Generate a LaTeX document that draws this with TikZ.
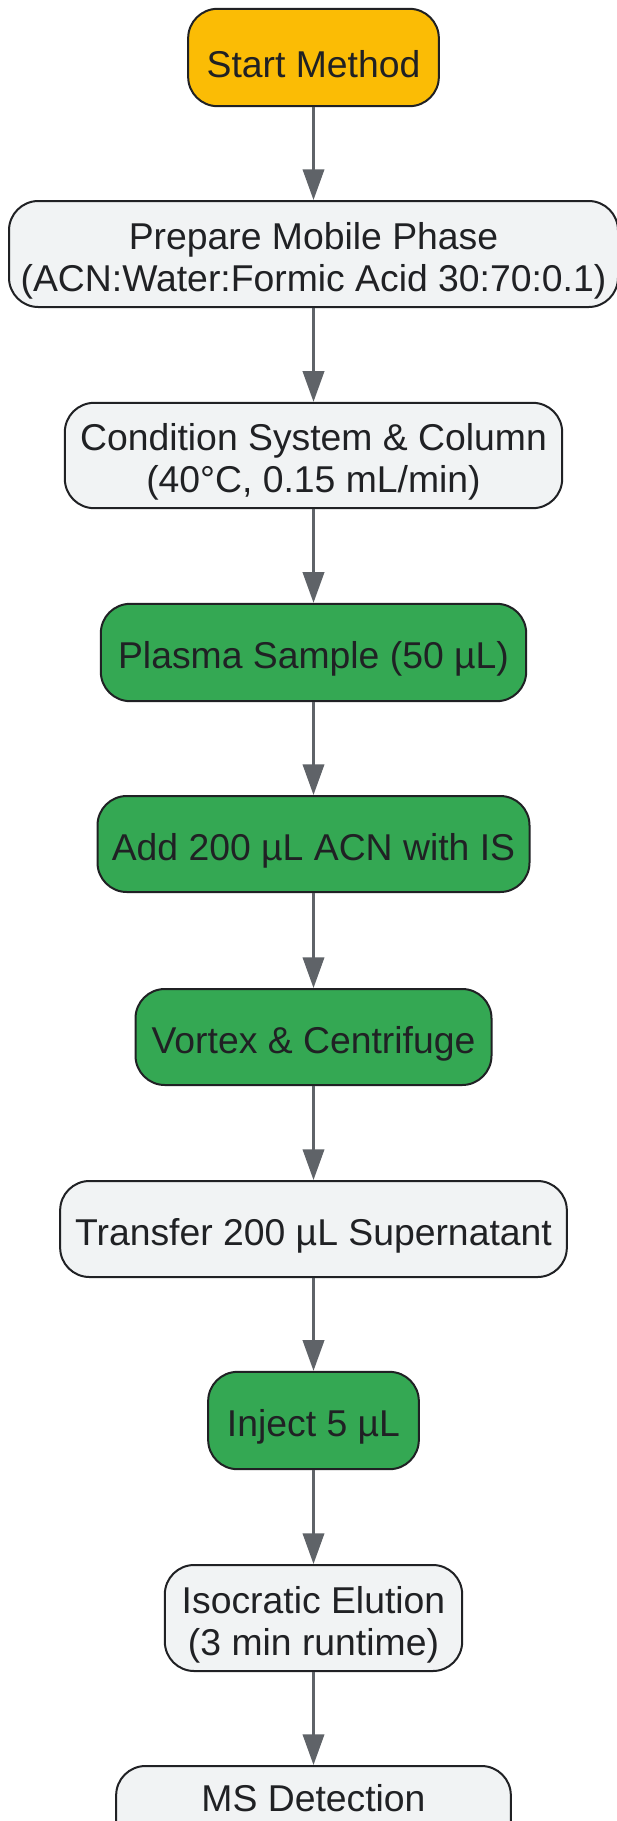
\documentclass[tikz,border=0pt]{standalone}
\usepackage{fontspec}
\setmainfont{Liberation Sans}
\usetikzlibrary{arrows.meta}
\definecolor{edgeink}{HTML}{202124}
\definecolor{arrowgrey}{HTML}{5F6368}
\definecolor{startfill}{HTML}{FBBC05}
\definecolor{greenfill}{HTML}{34A853}
\definecolor{greyfill}{HTML}{F1F3F4}
\newcommand{\dropline}{\rule{0pt}{30pt}}
\begin{document}
\begin{tikzpicture}[x=.75pt,y=-.75pt,
 box/.style={draw=edgeink,line width=1.5pt,rounded corners=22pt,align=center,
  text=edgeink,inner sep=0pt,font=\fontsize{28}{31.5}\selectfont},
 startbox/.style={box,fill=startfill},
 greybox/.style={box,fill=greyfill},
 greenbox/.style={box,fill=greenfill},
 arr/.style={-{Triangle[length=23pt,width=16pt]},draw=arrowgrey,line width=2pt}]
 \useasboundingbox[fill=white] (0,0) rectangle (617,1821);
 \node[startbox,minimum width=188pt,minimum height=73pt] (start) at (313.5,57.5) {\dropline Start Method};
 \node[greybox,minimum width=456.75pt,minimum height=79.5pt] (prep) at (313.5,254) {\dropline Prepare Mobile Phase\\(ACN:Water:Formic Acid 30:70:0.1)};
 \node[greybox,minimum width=373pt,minimum height=79pt] (cond) at (313.5,455.5) {\dropline Condition System \& Column\\(40°C, 0.15 mL/min)};
 \node[greenbox,minimum width=319pt,minimum height=73pt] (plasma) at (313.5,652.5) {\dropline Plasma Sample (50 µL)};
 \node[greenbox,minimum width=324pt,minimum height=72pt] (add) at (313.5,844) {\dropline Add 200 µL ACN with IS};
 \node[greenbox,minimum width=267pt,minimum height=72pt] (vortex) at (313.5,1037) {\dropline Vortex \& Centrifuge};
 \node[greybox,minimum width=380pt,minimum height=72pt] (transfer) at (313.5,1229) {\dropline Transfer 200 µL Supernatant};
 \node[greenbox,minimum width=158pt,minimum height=73pt] (inject) at (313.5,1420.5) {\dropline Inject 5 µL};
 \node[greybox,minimum width=223pt,minimum height=79.5pt] (iso) at (313.5,1618) {\dropline Isocratic Elution\\(3 min runtime)};
 \node[greybox,minimum width=296pt,minimum height=79.5pt] (ms) at (313.5,1819) {\dropline MS Detection\\\strut};
 \draw[arr] (start.south) -- (prep.north);
 \draw[arr] (prep.south) -- (cond.north);
 \draw[arr] (cond.south) -- (plasma.north);
 \draw[arr] (plasma.south) -- (add.north);
 \draw[arr] (add.south) -- (vortex.north);
 \draw[arr] (vortex.south) -- (transfer.north);
 \draw[arr] (transfer.south) -- (inject.north);
 \draw[arr] (inject.south) -- (iso.north);
 \draw[arr] (iso.south) -- (ms.north);
\end{tikzpicture}
\end{document}
